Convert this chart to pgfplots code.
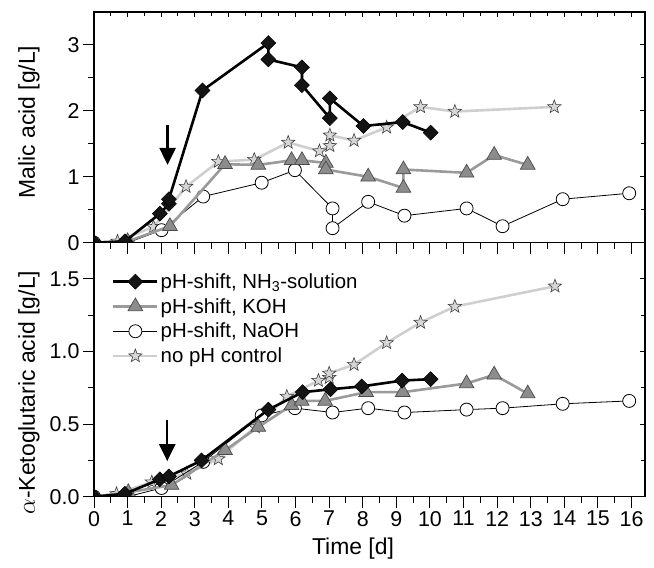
\documentclass[border=0pt]{standalone}
\usepackage{fontspec}
\setmainfont{Liberation Sans}
\usepackage{pgfplots}
\pgfplotsset{compat=1.18}
\usetikzlibrary{arrows.meta}

\pgfdeclareplotmark{fstar}{%
  \pgfpathmoveto{\pgfpointpolar{90}{\pgfplotmarksize}}%
  \pgfpathlineto{\pgfpointpolar{126}{0.42\pgfplotmarksize}}%
  \pgfpathlineto{\pgfpointpolar{162}{\pgfplotmarksize}}%
  \pgfpathlineto{\pgfpointpolar{198}{0.42\pgfplotmarksize}}%
  \pgfpathlineto{\pgfpointpolar{234}{\pgfplotmarksize}}%
  \pgfpathlineto{\pgfpointpolar{270}{0.42\pgfplotmarksize}}%
  \pgfpathlineto{\pgfpointpolar{306}{\pgfplotmarksize}}%
  \pgfpathlineto{\pgfpointpolar{342}{0.42\pgfplotmarksize}}%
  \pgfpathlineto{\pgfpointpolar{18}{\pgfplotmarksize}}%
  \pgfpathlineto{\pgfpointpolar{54}{0.42\pgfplotmarksize}}%
  \pgfpathclose
  \pgfusepathqfillstroke
}

\definecolor{kohline}{HTML}{9A9A9A}
\definecolor{kohfill}{HTML}{8C8C8C}
\definecolor{starline}{HTML}{CFCFCF}
\definecolor{starfill}{HTML}{D6D6D6}

\pgfplotsset{
  base/.style={
    scale only axis, width=551bp, xmin=0, xmax=16.4,
    axis line style={line width=1.1bp},
    every tick/.style={black, line width=1bp},
    /pgf/number format/assume math mode=true,
    tick label style={font=\fontsize{21.5}{24}\selectfont},
    label style={font=\fontsize{23}{26}\selectfont},
    xtick={0,...,16}, minor x tick num=1,
    clip marker paths=true,
  },
  mainax/.style={base, xtick pos=bottom, ytick pos=left, tick align=outside,
    major tick length=11bp, minor tick length=6bp},
  overax/.style={base, xtick pos=top, ytick pos=right, tick align=inside,
    major tick length=5bp, minor tick length=4bp, xticklabels={}, yticklabels={}},
  topax/.style={height=230.7bp, ymin=0, ymax=3.5, ytick={0,1,2,3}, minor y tick num=1},
  botax/.style={height=254bp, ymin=0, ymax=1.75, ytick={0,0.5,1,1.5}, minor y tick num=1},
  nh3/.style={black, line width=2.6bp, mark=square*, mark size=5.3bp,
    mark options={solid, rotate=45, line width=0.5bp, draw=black, fill=black!92}},
  koh/.style={kohline, line width=2.6bp, mark=triangle*, mark size=8.5bp,
    mark options={solid, line width=0.7bp, draw=black!70, fill=kohfill}},
  naoh/.style={black, line width=0.8bp, mark=*, mark size=6.5bp,
    mark options={solid, line width=0.8bp, draw=black, fill=white}},
  nopH/.style={starline, line width=2.6bp, mark=fstar, mark size=7bp,
    mark options={solid, line width=0.6bp, draw=black!75, fill=starfill}},
  legend image code/.code={%
    \draw[mark repeat=2, mark phase=2, #1] plot coordinates {(0bp,0bp) (22bp,0bp) (44bp,0bp)};},
}

\begin{document}
\begin{tikzpicture}
\useasboundingbox (0,0) rectangle (654bp,568bp);

% ---------- top panel: malic acid ----------
\begin{axis}[mainax, topax, at={(94bp,325.3bp)}, anchor=south west,
  xticklabels={},
  ylabel={Malic acid [g/L]},
  ylabel style={at={(axis description cs:-0.118,0.523)}, anchor=center}]
\addplot[nopH] coordinates {(0,0) (0.7,0.02) (1.77,0.24) (2.74,0.85) (3.70,1.23) (4.77,1.26) (5.78,1.52) (6.71,1.39) (7.02,1.47) (7.02,1.63) (7.74,1.55) (8.71,1.75) (9.72,2.06) (10.74,1.99) (13.70,2.06)};
\addplot[naoh] coordinates {(0,0) (1.0,0.0) (2.01,0.19) (3.25,0.70) (4.99,0.91) (5.98,1.10) (7.10,0.52) (7.10,0.22) (8.16,0.62) (9.24,0.41) (11.09,0.52) (12.16,0.25) (13.95,0.66) (15.93,0.75)};
\addplot[koh] coordinates {(0,0) (1.0,0.02) (2.26,0.25) (3.90,1.19) (4.89,1.18) (5.88,1.25) (6.19,1.25) (6.90,1.21) (6.90,1.11) (8.16,1.00) (9.21,0.83) (9.21,1.11) (11.09,1.06) (11.91,1.33) (12.91,1.18)};
\addplot[nh3] coordinates {(0,0) (0.92,0.02) (1.96,0.44) (2.23,0.59) (2.23,0.66) (3.23,2.31) (5.19,3.03) (5.19,2.78) (6.19,2.66) (6.19,2.39) (7.02,1.89) (7.02,2.19) (8.02,1.77) (9.19,1.83) (10.02,1.67)};
\draw[line width=2.4bp, -{Triangle[length=17bp,width=16bp]}] (axis cs:2.19,1.79) -- (axis cs:2.19,1.18);
\end{axis}
\begin{axis}[overax, topax, at={(94bp,325.3bp)}, anchor=south west]
\end{axis}

% ---------- bottom panel: alpha-ketoglutaric acid ----------
\begin{axis}[mainax, botax, at={(94bp,71.3bp)}, anchor=south west,
  yticklabel style={/pgf/number format/.cd, fixed, fixed zerofill, precision=1},
  ylabel={$\alpha$-Ketoglutaric acid [g/L]},
  ylabel style={at={(axis description cs:-0.118,0.41)}, anchor=center},
  xlabel={Time [d]},
  xlabel style={at={(axis description cs:0.47,-0.205)}, anchor=center},
  reverse legend, legend cell align=left,
  legend style={draw=none, fill=none, at={(axis description cs:0.027,0.895)}, anchor=north west,
    font=\fontsize{20.5}{23}\selectfont, row sep=4.5bp}]
\addplot[nopH] coordinates {(0,0) (0.67,0.02) (1.72,0.10) (2.76,0.16) (3.70,0.26) (4.80,0.48) (5.74,0.69) (6.68,0.80) (7.0,0.82) (7.0,0.85) (7.74,0.91) (8.71,1.06) (9.72,1.20) (10.74,1.31) (13.72,1.45)};
\addlegendentry{no pH control}
\addplot[naoh] coordinates {(0,0) (1.0,0.0) (2.01,0.06) (3.25,0.24) (4.99,0.56) (5.98,0.61) (7.10,0.58) (8.16,0.61) (9.24,0.58) (11.09,0.60) (12.16,0.61) (13.95,0.64) (15.93,0.66)};
\addlegendentry{pH-shift, NaOH}
\addplot[koh] coordinates {(0,0) (1.02,0.03) (2.31,0.08) (3.90,0.32) (4.89,0.48) (5.88,0.63) (6.18,0.66) (6.88,0.66) (8.10,0.72) (9.19,0.72) (11.09,0.78) (11.91,0.84) (12.91,0.71)};
\addlegendentry{pH-shift, KOH}
\addplot[nh3] coordinates {(0,0) (0.92,0.02) (1.96,0.12) (2.23,0.14) (3.20,0.25) (5.19,0.60) (6.21,0.72) (7.04,0.74) (7.97,0.76) (9.17,0.80) (10.02,0.81)};
\addlegendentry{pH-shift, NH\textsubscript{3}-solution}
\draw[line width=2.4bp, -{Triangle[length=17bp,width=16bp]}] (axis cs:2.18,0.53) -- (axis cs:2.18,0.245);
\end{axis}
\begin{axis}[overax, botax, at={(94bp,71.3bp)}, anchor=south west]
\end{axis}
\end{tikzpicture}
\end{document}
